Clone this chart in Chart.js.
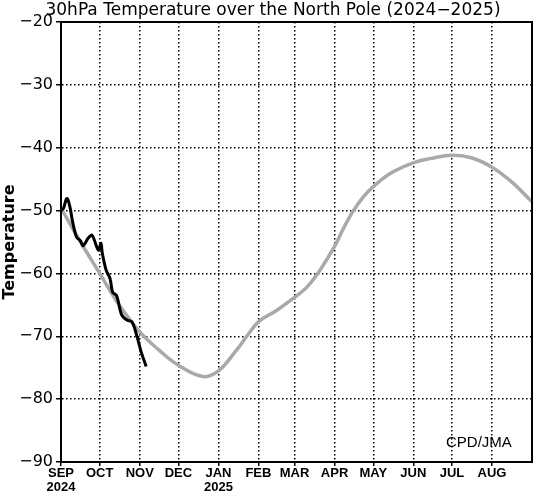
<!DOCTYPE html>
<html>
<head>
<meta charset="utf-8">
<script src="https://cdn.jsdelivr.net/npm/chart.js@4"></script>
<style>
  body { margin: 0; background: #fff; }
  #box { width: 540px; height: 497px; }
</style>
</head>
<body>
<div id="box"><canvas id="tempChart"></canvas></div>
<script>
// days counted from 1 Sep 2024
const monthDays = [0, 30, 61, 91, 122, 153, 181, 212, 242, 273, 303, 334];
const monthLabels = ['SEP', 'OCT', 'NOV', 'DEC', 'JAN', 'FEB', 'MAR', 'APR', 'MAY', 'JUN', 'JUL', 'AUG'];
const yearLabels = { 0: '2024', 4: '2025' };

// climatology (gray)
const climDays = [0, 14, 30, 45, 61, 76, 91, 110, 122, 136, 144, 153, 167, 181, 190, 199, 205, 212, 219, 226, 234, 242, 256, 273, 287, 303, 318, 334, 349, 365];
const climTemp = [-49.6, -54.6, -60.0, -65.0, -69.3, -72.2, -74.6, -76.4, -75.5, -72.2, -70.0, -67.7, -65.9, -63.8, -62.3, -60.0, -58.1, -55.7, -52.8, -50.2, -47.9, -46.2, -44.0, -42.4, -41.7, -41.2, -41.6, -43.1, -45.4, -48.6];

// 2024 observed (black)
const obsDays = [0, 2, 4, 5, 7, 9, 12, 15, 17, 19, 21, 24, 26, 29, 31, 32, 35, 38, 40, 43, 47, 51, 55, 59, 62, 66];
const obsTemp = [-50.0, -49.6, -48.2, -48.1, -49.5, -51.8, -54.2, -54.8, -55.6, -55.1, -54.4, -53.9, -54.8, -56.3, -55.2, -56.8, -59.5, -60.8, -63.0, -63.5, -66.6, -67.4, -67.7, -70.1, -72.4, -74.8];

function toPoints(xs, ys) {
    let pts = [];
    for (let i in xs) {
        pts.push({ x: xs[i], y: ys[i] });
    }
    return pts;
}

const frameAndText = {
    id: 'frameAndText',
    afterDraw(chart) {
        const ctx = chart.ctx;
        const a = chart.chartArea;
        ctx.save();
        ctx.strokeStyle = '#000';
        ctx.lineWidth = 2;
        ctx.strokeRect(a.left, a.top, a.right - a.left, a.bottom - a.top);
        ctx.fillStyle = '#000';
        ctx.font = '17px "DejaVu Sans"';
        ctx.textAlign = 'center';
        ctx.textBaseline = 'alphabetic';
        ctx.fillText('30hPa Temperature over the North Pole (2024\u22122025)', 273, 15);
        ctx.font = '15px "Liberation Sans"';
        ctx.textAlign = 'left';
        ctx.fillText('CPD/JMA', 446, 447);
        ctx.restore();
    }
};

const dotted = { color: '#000', lineWidth: 1.5, tickBorderDash: [], tickColor: '#000' };
const axisBorder = { display: true, color: '#000', width: 2, dash: [1.5, 2.5] };

new Chart(document.getElementById('tempChart'), {
    type: 'line',
    data: {
        datasets: [{
            label: 'obs',
            data: toPoints(obsDays, obsTemp),
            borderColor: '#000',
            borderWidth: 3,
            pointRadius: 0,
            tension: 0.3
        }, {
            label: 'clim',
            data: toPoints(climDays, climTemp),
            borderColor: '#a9a9a9',
            borderWidth: 3.5,
            pointRadius: 0,
            tension: 0.4
        }]
    },
    options: {
        responsive: true,
        maintainAspectRatio: false,
        animation: false,
        layout: { padding: { top: 22, right: 8, left: 0, bottom: 0 } },
        plugins: {
            legend: { display: false },
            tooltip: { enabled: false }
        },
        scales: {
            x: {
                type: 'linear',
                min: 0,
                max: 365,
                afterBuildTicks: (scale) => {
                    scale.ticks = monthDays.map(d => ({ value: d }));
                },
                afterFit: (scale) => { scale.height = 35; },
                grid: Object.assign({ tickLength: 4 }, dotted),
                border: axisBorder,
                ticks: {
                    autoSkip: false,
                    maxRotation: 0,
                    padding: 1,
                    color: '#000',
                    font: { family: '"Liberation Sans"', size: 13, weight: 'bold', lineHeight: 1.05 },
                    callback: (v, i) => yearLabels[i] ? [monthLabels[i], yearLabels[i]] : monthLabels[i]
                }
            },
            y: {
                min: -90,
                max: -20,
                afterFit: (scale) => { scale.width = 61; },
                grid: Object.assign({ tickLength: 5 }, dotted),
                border: axisBorder,
                title: {
                    display: true,
                    text: 'Temperature',
                    color: '#000',
                    padding: { top: 0, bottom: 0 },
                    font: { family: '"DejaVu Sans"', size: 16, weight: 'bold' }
                },
                ticks: {
                    stepSize: 10,
                    padding: 3,
                    color: '#000',
                    font: { family: '"DejaVu Sans"', size: 16 },
                    callback: v => v < 0 ? '\u2212' + Math.abs(v) : String(v)
                }
            }
        }
    },
    plugins: [frameAndText]
});
</script>
</body>
</html>
